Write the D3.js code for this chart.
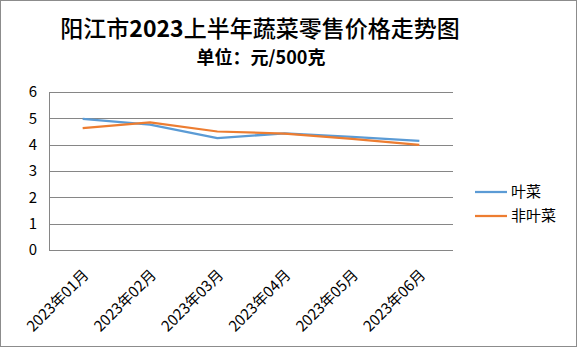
<!DOCTYPE html>
<html><head><meta charset="utf-8">
<script src="https://cdn.jsdelivr.net/npm/d3@7"></script>
<style>body{margin:0;background:#fff}svg{display:block}</style>
</head><body>
<svg id="c" width="577" height="348"></svg>
<script>
const categories = ["2023年01月","2023年02月","2023年03月","2023年04月","2023年05月","2023年06月"];
const leafy = [4.98, 4.76, 4.25, 4.43, 4.30, 4.14];
const nonLeafy = [4.63, 4.85, 4.50, 4.42, 4.22, 3.99];
const seriesNames = ["叶菜","非叶菜"];
const seriesColors = ["#5B9BD5","#ED7D31"];
const yTicks = [0,1,2,3,4,5,6];
const titleParts = [["阳江市",500],["2023","bold"],["上半年蔬菜零售价格走势图",500]];
const subtitleText = "单位：元/500克";

const svg = d3.select("#c");
const font = "'Noto Sans CJK SC','Noto Sans',sans-serif";
svg.append("rect").attr("x",0.5).attr("y",0.5).attr("width",576).attr("height",346)
  .attr("fill","#fff").attr("stroke","#8c8c8c");

const title = svg.append("text").attr("x",260).attr("y",37).attr("text-anchor","middle")
  .attr("font-family",font).attr("font-size",23).attr("fill","#000");
titleParts.forEach(p=>title.append("tspan").attr("font-weight",p[1]).text(p[0]));
svg.append("text").attr("x",261).attr("y",64).attr("text-anchor","middle")
  .attr("font-family",font).attr("font-size",18).attr("font-weight","bold").attr("fill","#000").text(subtitleText);

const L=49, R=453, T=92, B=250;
const x = d3.scaleBand().domain(categories).range([L,R]);
const y = d3.scaleLinear().domain([0,6]).range([B,T]);

const g = svg.append("g");
g.selectAll("line.grid").data(yTicks).enter().append("line")
  .attr("x1",L).attr("x2",R).attr("y1",d=>Math.round(y(d))+0.5).attr("y2",d=>Math.round(y(d))+0.5)
  .attr("stroke","#868686").attr("stroke-width",1);
g.append("line").attr("x1",L+0.5).attr("x2",L+0.5).attr("y1",T).attr("y2",B).attr("stroke","#868686");

const yAxis = d3.axisLeft(y).tickValues(yTicks).tickSize(0).tickPadding(12).tickFormat(d3.format("d"));
const ya = svg.append("g").attr("transform",`translate(${L},0)`).call(yAxis);
ya.select(".domain").remove();
ya.selectAll("text").attr("font-family",font).attr("font-size",15).attr("fill","#000");

const xAxis = d3.axisBottom(x).tickSize(0).tickPadding(0);
const xa = svg.append("g").attr("transform",`translate(0,${B})`).call(xAxis);
xa.select(".domain").remove();
xa.selectAll("text").attr("font-family",font).attr("font-size",15).attr("fill","#000")
  .attr("text-anchor","end").attr("dy",0).attr("y",0)
  .attr("transform","translate(7,26) rotate(-45)");

const line = d3.line().x((d,i)=>x(categories[i])+x.bandwidth()/2).y(d=>y(d));
[leafy, nonLeafy].forEach((s,i)=>{
  svg.append("path").datum(s).attr("d",line).attr("fill","none")
    .attr("stroke",seriesColors[i]).attr("stroke-width",2.25).attr("stroke-linejoin","round");
});

const leg = svg.append("g");
seriesNames.forEach((n,i)=>{
  const ly = 192 + i*24;
  leg.append("line").attr("x1",475).attr("x2",507).attr("y1",ly).attr("y2",ly)
    .attr("stroke",seriesColors[i]).attr("stroke-width",2.25);
  leg.append("text").attr("x",511).attr("y",ly+5).attr("font-family",font).attr("font-size",15)
    .attr("fill","#000").text(n);
});
</script>
</body></html>
